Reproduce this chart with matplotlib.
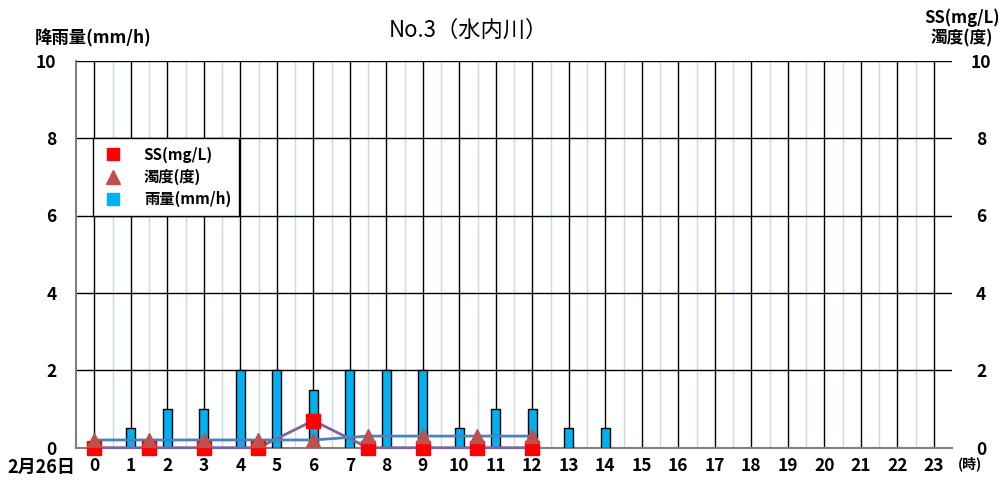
import matplotlib
matplotlib.use("Agg")
import matplotlib.pyplot as plt
from matplotlib.lines import Line2D

plt.rcParams['font.family'] = ['Noto Sans CJK JP', 'DejaVu Sans']

hours = list(range(24))
rain_hours = [0, 1, 2, 3, 4, 5, 6, 7, 8, 9, 10, 11, 12, 13, 14]
rain = [0, 0.5, 1, 1, 2, 2, 1.5, 2, 2, 2, 0.5, 1, 1, 0.5, 0.5]

sample_times = [0, 1.5, 3, 4.5, 6, 7.5, 9, 10.5, 12]
ss = [0, 0, 0, 0, 0.7, 0, 0, 0, 0]
turb = [0.2, 0.2, 0.2, 0.2, 0.2, 0.3, 0.3, 0.3, 0.3]

yticks = [0, 2, 4, 6, 8, 10]

fig = plt.figure(figsize=(10.07, 4.82), dpi=100)
ax = fig.add_axes([76/1007, 1 - 447.7/482, 876/1007, 387/482])

# grid
for h in hours:
    ax.axvline(h, color='black', lw=1, zorder=1)
    if h < 23:
        ax.axvline(h + 0.5, color='#c5d9f1', lw=1, zorder=1)
for y in yticks[1:]:
    ax.axhline(y, color='black', lw=1, zorder=1)

ax.bar(rain_hours, rain, width=0.25, color='#00b0f0', edgecolor='black',
       lw=1, zorder=3)

ax.set_xlim(-0.5, 23.5)
ax.set_ylim(0, 10)
ax.set_yticks(yticks)
ax.set_xticks(hours)
ax.tick_params(length=0, labelsize=12.5, pad=7)
for lab in ax.get_xticklabels() + ax.get_yticklabels():
    lab.set_fontweight('bold')
ax.tick_params(axis='y', pad=14)
for s in ['top', 'right']:
    ax.spines[s].set_visible(False)
for s in ['left', 'bottom']:
    ax.spines[s].set_color('#808080')
    ax.spines[s].set_linewidth(1.5)

ax2 = ax.twinx()
ax2.set_ylim(0, 10)
ax2.set_yticks(yticks)
ax2.tick_params(length=0, labelsize=12.5, pad=21)
for lab in ax2.get_yticklabels():
    lab.set_fontweight('bold')
    lab.set_horizontalalignment('center')
for s in ax2.spines.values():
    s.set_visible(False)

ax2.plot(sample_times, ss, color='#8064a2', lw=2, zorder=2, clip_on=False)
ax2.plot(sample_times, turb, color='#4f81bd', lw=2, zorder=2, clip_on=False)
ax2.plot(sample_times, ss, 's', color='red', ms=10, zorder=4, clip_on=False)
ax2.plot(sample_times, turb, '^', color='#c0504d', ms=10, zorder=5, clip_on=False)

handles = [
    Line2D([], [], marker='s', color='red', ls='none', ms=9),
    Line2D([], [], marker='^', color='#c0504d', ls='none', ms=10),
    Line2D([], [], marker='s', color='#00b0f0', ls='none', ms=9),
]
leg = ax2.legend(handles, ['SS(mg/L)', '濁度(度)', '雨量(mm/h)'],
                 loc='upper left', bbox_to_anchor=(0.019, 0.80),
                 prop={'size': 11, 'weight': 'bold'}, fancybox=False,
                 edgecolor='black', framealpha=1, borderaxespad=0,
                 borderpad=0.55, handlelength=1.6, handletextpad=1.2,
                 labelspacing=0.4)
leg.get_frame().set_linewidth(1)

fig.text(468/1007, 1 - 30/482, 'No.3（水内川）', ha='center', va='center', fontsize=16)
fig.text(35/1007, 1 - 38/482, '降雨量(mm/h)', ha='left', va='center',
         fontsize=12.5, fontweight='bold')
fig.text(962/1007, 1 - 18/482, 'SS(mg/L)', ha='center', va='center',
         fontsize=12, fontweight='bold')
fig.text(962/1007, 1 - 38/482, '濁度(度)', ha='center', va='center',
         fontsize=12, fontweight='bold')
fig.text(41/1007, 1 - 467/482, '2月26日', ha='center', va='center',
         fontsize=13, fontweight='bold')
fig.text(970/1007, 1 - 464/482, '(時)', ha='center', va='center',
         fontsize=10, fontweight='bold')

fig.savefig('out.png', dpi=100)
